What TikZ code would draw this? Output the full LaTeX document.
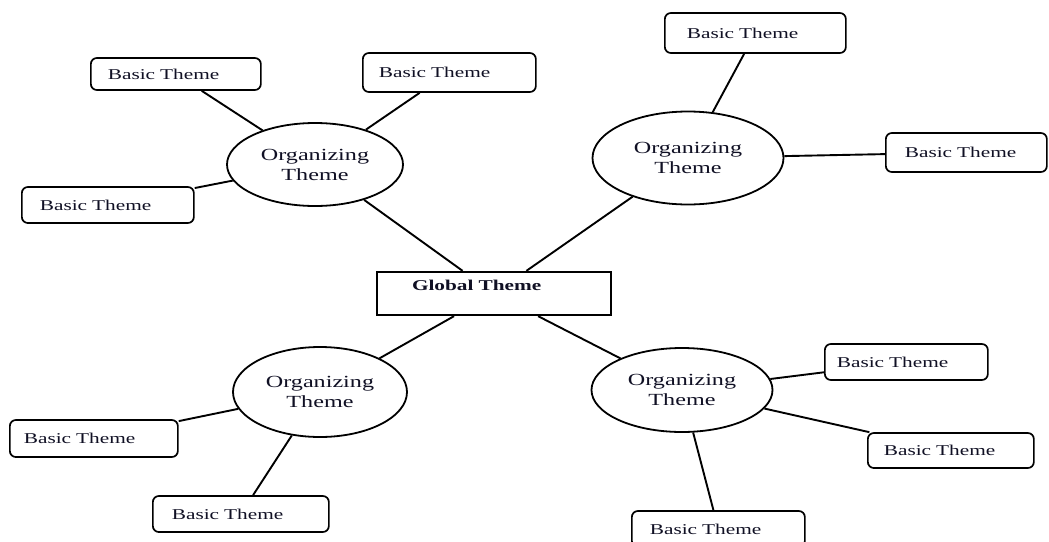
\documentclass[tikz,border=0pt]{standalone}
\usepackage{fontspec}
\setmainfont{Liberation Serif}[FakeStretch=1.42]
\usetikzlibrary{shapes.geometric}
\definecolor{ink}{RGB}{16,16,36}
\begin{document}
\begin{tikzpicture}[x=1pt,y=-1pt,
  conn/.style={line width=1.9pt, draw=black},
  orgtheme/.style={ellipse, draw=black, line width=1.8pt, fill=white, inner sep=0pt,
    align=center, text=ink, font=\fontsize{17}{20}\selectfont},
  basictheme/.style={draw=black, line width=1.7pt, rounded corners=6pt, fill=white,
    align=left, anchor=west, text=ink, inner ysep=0pt, font=\fontsize{15}{18}\selectfont},
  globaltheme/.style={draw=black, line width=2.3pt, fill=white, align=left,
    text=ink, inner ysep=0pt, inner xsep=35pt, text width=164pt,
    text height=18pt, text depth=25pt, font=\bfseries\fontsize{15}{18}\selectfont}]
\useasboundingbox (0,0) rectangle (1049,541);
\clip (0,0) rectangle (1049,541);

% global theme
\node[globaltheme] (g) at (494,293.5) {Global Theme};

% organizing themes
\node[orgtheme, minimum width=176pt, minimum height=83pt] (otl) at (315,164.5) {Organizing\\Theme};
\node[orgtheme, minimum width=191pt, minimum height=93pt] (otr) at (688,158) {Organizing\\Theme};
\node[orgtheme, minimum width=174pt, minimum height=90pt] (obl) at (320,392) {Organizing\\Theme};
\node[orgtheme, minimum width=181pt, minimum height=84pt] (obr) at (682,390) {Organizing\\Theme};

% basic themes
\node[basictheme, minimum height=32pt, inner xsep=17pt, text width=136pt] (ba) at (90,74) {Basic Theme};
\node[basictheme, minimum height=39pt, inner xsep=16pt, text width=141pt] (bb) at (362,72.5) {Basic Theme};
\node[basictheme, minimum height=36pt, inner xsep=18pt, text width=136pt] (bc) at (21,205) {Basic Theme};
\node[basictheme, minimum height=40pt, inner xsep=22pt, text width=137pt] (bd) at (664,33) {Basic Theme};
\node[basictheme, minimum height=39pt, inner xsep=19pt, text width=123pt] (be) at (885,152.5) {Basic Theme};
\node[basictheme, minimum height=37pt, inner xsep=14pt, text width=140pt] (bf) at (9,438.5) {Basic Theme};
\node[basictheme, minimum height=36pt, inner xsep=19pt, text width=138pt] (bg) at (152,514) {Basic Theme};
\node[basictheme, minimum height=36pt, inner xsep=12pt, text width=139pt] (bh) at (824,362) {Basic Theme};
\node[basictheme, minimum height=35pt, inner xsep=16pt, text width=134pt] (bi) at (867,450.5) {Basic Theme};
\node[basictheme, minimum height=36pt, inner xsep=18pt, text width=137pt] (bj) at (631,529) {Basic Theme};

% connectors
\draw[conn] (g) -- (otl);
\draw[conn] (g) -- (otr);
\draw[conn] (g) -- (obl);
\draw[conn] (g) -- (obr);
\draw[conn] (otl) -- (ba);
\draw[conn] (otl) -- (bb);
\draw[conn] (otl) -- (bc);
\draw[conn] (otr) -- (bd);
\draw[conn] (otr) -- (be);
\draw[conn] (obl) -- (bf);
\draw[conn] (obl) -- (bg);
\draw[conn] (obr) -- (bh);
\draw[conn] (obr) -- (bi);
\draw[conn] (obr) -- (bj);
\end{tikzpicture}
\end{document}
